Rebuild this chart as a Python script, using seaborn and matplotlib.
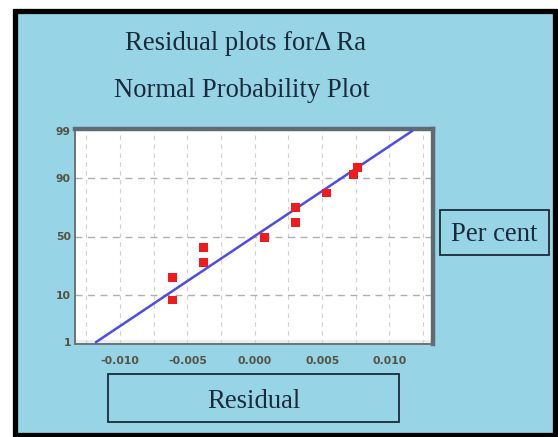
import matplotlib
matplotlib.use("Agg")
import matplotlib.pyplot as plt
import seaborn as sns
import pandas as pd
from statistics import NormalDist
from matplotlib.patches import Rectangle
from matplotlib.ticker import MultipleLocator

# ---- data ----
resid = [-0.0061, -0.0061, -0.0038, -0.0038, 0.0007, 0.0030, 0.0030, 0.0053, 0.0073, 0.0076]
percent = [8.1, 18.4, 28.5, 40.6, 49.0, 61.9, 73.7, 83.1, 91.5, 93.5]
fit_resid = [-0.0118, 0.0117]
fit_percent = [1, 99]
y_ticks = [1, 10, 50, 90, 99]
y_tick_labels = ["1", "10", "50", "90", "99"]
x_ticks = [-0.010, -0.005, 0.000, 0.005, 0.010]
x_tick_labels = ["-0.010", "-0.005", "0.000", "0.005", "0.010"]

title1 = "Residual plots for\u0394 Ra"
title2 = "Normal Probability Plot"
xlabel = "Residual"
ylabel = "Per cent"

nd = NormalDist()
def z(p):
    return nd.inv_cdf(p / 100.0)

pts = pd.DataFrame({"resid": resid, "z": [z(p) for p in percent]})
fit = pd.DataFrame({"resid": fit_resid, "z": [z(p) for p in fit_percent]})

sns.set_style("white")
plt.rcParams["font.family"] = ["DejaVu Sans"]

W, H = 558, 437
BG = "#96d4e6"
TXT = "#1b2a3a"

fig = plt.figure(figsize=(W / 100, H / 100), dpi=100)
fig.patch.set_facecolor("white")

def fx(px):
    return px / W
def fy(py):
    return 1 - py / H

# outer frame
fig.add_artist(Rectangle((fx(14.5), fy(434.5)), fx(555) - fx(14.5), fy(11) - fy(434.5),
                         transform=fig.transFigure, facecolor=BG, edgecolor="black",
                         linewidth=3.8, zorder=0))

# axes
ax = fig.add_axes([fx(75), fy(344), fx(433) - fx(75), fy(129) - fy(344)])
ax.set_facecolor("white")
ax.set_xlim(-0.01335, 0.01323)
ax.set_ylim(z(0.9), z(99.1))

ax.axhspan(z(0.9), z(1.15), color="#ededed", zorder=0, lw=0)

# grids
for gx in [i * 0.0025 for i in range(-5, 6)]:
    ax.axvline(gx, color="#d0d0d0", lw=0.8, ls=(0, (4, 4)), zorder=1)
for gy in [10, 50, 90]:
    ax.axhline(z(gy), color="#b0b0b0", lw=1.0, ls=(0, (5, 4)), zorder=1)

sns.lineplot(data=fit, x="resid", y="z", ax=ax, color="#4b4de6", lw=1.8, zorder=3)
sns.scatterplot(data=pts, x="resid", y="z", ax=ax, color="#ee1c1c", marker="s",
                s=40, edgecolor="none", zorder=4)

ax.set_xlabel("")
ax.set_ylabel("")
ax.set_xticks(x_ticks)
ax.set_xticklabels(x_tick_labels)
ax.xaxis.set_minor_locator(MultipleLocator(0.0025))
ax.set_yticks([z(p) for p in y_ticks])
ax.set_yticklabels(y_tick_labels)
ax.tick_params(axis="both", which="major", length=0, labelsize=7.8, labelcolor="#545244")
ax.tick_params(axis="x", which="both", direction="out", length=3, color="#8a9090", width=0.8)
ax.tick_params(axis="x", which="major", pad=6)
ax.tick_params(axis="y", pad=3)
for lab in ax.get_xticklabels() + ax.get_yticklabels():
    lab.set_fontweight("bold")

for side in ["left", "bottom"]:
    ax.spines[side].set_color("#6a7478")
    ax.spines[side].set_linewidth(1.4)
for side in ["top", "right"]:
    ax.spines[side].set_color("#5e6c72")
    ax.spines[side].set_linewidth(3.2)

serif = ["Liberation Serif", "DejaVu Serif"]
fig.text(fx(245.5), fy(50), title1, ha="center", va="baseline", fontsize=19.2,
         color=TXT, family=serif)
fig.text(fx(241.5), fy(97), title2, ha="center", va="baseline", fontsize=19.2,
         color=TXT, family=serif)

# Per cent box
fig.add_artist(Rectangle((fx(440), fy(255)), fx(549) - fx(440), fy(210) - fy(255),
                         transform=fig.transFigure, facecolor="none", edgecolor=TXT,
                         linewidth=1.3, zorder=2))
fig.text(fx(494.5), fy(241), ylabel, ha="center", va="baseline", fontsize=19.2,
         color=TXT, family=serif)

# Residual box
fig.add_artist(Rectangle((fx(108), fy(422)), fx(399) - fx(108), fy(374) - fy(422),
                         transform=fig.transFigure, facecolor="none", edgecolor=TXT,
                         linewidth=1.3, zorder=2))
fig.text(fx(253.5), fy(408), xlabel, ha="center", va="baseline", fontsize=19.2,
         color=TXT, family=serif)

fig.savefig("out.png", dpi=100)
